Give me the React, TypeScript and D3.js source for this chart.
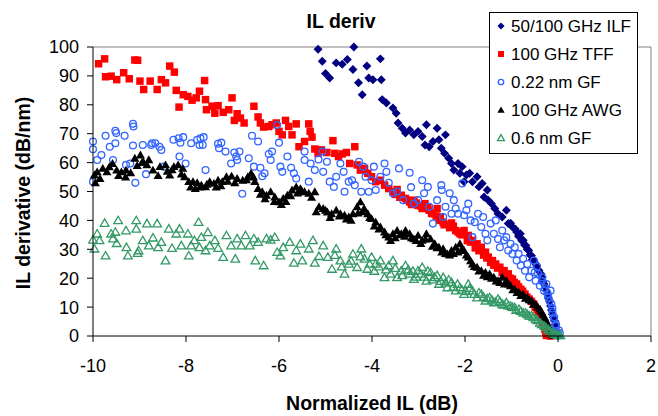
import React from "react";
import * as d3 from "d3";

// ---- data ----
const seriesNames = ["50/100 GHz ILF", "100 GHz TFF", "0.22 nm GF", "100 GHz AWG", "0.6 nm GF"];
const xTicks = [-10, -8, -6, -4, -2, 0, 2];
const yTicks = [0, 10, 20, 30, 40, 50, 60, 70, 80, 90, 100];

const ilf: [number, number][] = [
  [-5.16, 99.2], [-5.07, 95.1], [-5.0, 90.8], [-4.91, 89.3], [-4.77, 94.5], [-4.64, 94], [-4.53, 95.7],
  [-4.41, 92.2], [-4.39, 100], [-4.29, 87.6], [-4.21, 83.5], [-4.11, 93.4], [-4.07, 89.3], [-3.98, 88.7],
  [-3.82, 95.9], [-3.8, 88.7], [-3.78, 81.8], [-3.69, 80.6], [-3.55, 78.9], [-3.48, 77.1], [-3.44, 73.7],
  [-3.35, 71.9], [-3.28, 70.2], [-3.19, 71.3], [-3.1, 69.6], [-3.01, 70.8], [-2.92, 69], [-2.83, 73.1],
  [-2.86, 66.1], [-2.77, 65.5], [-2.69, 67.3], [-2.6, 71.9], [-2.56, 67.9], [-2.51, 65], [-2.44, 63.2],
  [-2.42, 69.6], [-2.35, 61.5], [-2.29, 59.7], [-2.24, 57.4], [-2.15, 59.7], [-2.11, 56.3], [-2.06, 58.6],
  [-2.02, 53.4], [-1.97, 55.7], [-1.9, 56.3], [-1.84, 53.4], [-1.74, 55.1], [-1.7, 51.6], [-1.63, 52.8],
  [-1.59, 48.1], [-1.52, 50.5], [-1.5, 47], [-1.43, 45.8], [-1.36, 44.1], [-1.29, 42.3], [-1.2, 41.2],
  [-1.11, 43.5], [-1.07, 38.9], [-0.98, 37.7], [-0.89, 36], [-0.81, 35.4], [-0.75, 33.1], [-0.69, 31.3],
  [-0.63, 29.6], [-0.57, 27.8], [-0.52, 26.1], [-0.46, 24.4], [-0.41, 22.6], [-0.34, 20.3], [-0.3, 18],
  [-0.25, 15.7], [-0.21, 13.3], [-0.16, 10.4], [-0.12, 7.5], [-0.07, 5.2], [-0.05, 2.9], [-0.02, 1.2],
  [0, 0.2], [-1.02, 39], [-0.92, 37], [-0.85, 34.5], [-0.78, 33], [-0.72, 31.5], [-0.66, 30], [-0.6, 28],
  [-0.55, 26.5], [-0.48, 25], [-0.43, 23], [-0.37, 21.5], [-0.32, 19], [-0.27, 17], [-0.23, 14.5],
  [-0.18, 12], [-0.14, 9], [-0.1, 6.5], [-0.06, 4], [-0.03, 2],
];

const tff: [number, number][] = [
  [-9.88, 94.2], [-9.75, 95.9], [-9.73, 89.7], [-9.61, 89.9], [-9.49, 88.7], [-9.34, 91.1], [-9.22, 89],
  [-9.1, 95.5], [-9.04, 95.4], [-8.99, 88.2], [-8.91, 85.3], [-8.77, 88.2], [-8.62, 85.3], [-8.53, 88.7],
  [-8.44, 87.6], [-8.35, 93.4], [-8.25, 91.3], [-8.21, 85], [-8.15, 79.2], [-8.06, 83.5], [-7.96, 82.9],
  [-7.87, 81.6], [-7.78, 82.4], [-7.71, 84.7], [-7.6, 88.4], [-7.58, 81.8], [-7.56, 78.3], [-7.44, 79.5],
  [-7.38, 77.1], [-7.31, 79.7], [-7.2, 77.4], [-7.08, 78.3], [-7.01, 82.4], [-6.96, 74.6], [-6.9, 76.9],
  [-6.83, 75.4], [-6.75, 73.7], [-6.54, 79.5], [-6.45, 75.8], [-6.4, 73.7], [-6.33, 72.3], [-6.22, 72.5],
  [-6.15, 73.1], [-6.06, 73.7], [-6.0, 70.8], [-5.93, 69.6], [-5.86, 74.6], [-5.79, 72.5], [-5.72, 69.6],
  [-5.63, 73.4], [-5.57, 65.5], [-5.45, 67.3], [-5.36, 73.4], [-5.33, 70.8], [-5.29, 68.8], [-5.23, 64.7],
  [-5.16, 63.2], [-5.09, 64.4], [-4.97, 63.5], [-4.84, 67.6], [-4.8, 63.2], [-4.72, 62.1], [-4.64, 63],
  [-4.55, 63.5], [-4.48, 59.7], [-4.37, 65.5], [-4.32, 59.2], [-4.25, 57.4], [-4.16, 58], [-4.09, 56.3],
  [-4.01, 55.1], [-3.92, 53.4], [-3.82, 53.9], [-3.73, 52.2], [-3.64, 51], [-3.55, 49.9], [-3.46, 50.7],
  [-3.37, 48.7], [-3.28, 47.6], [-3.19, 46.4], [-3.1, 47], [-3.01, 45.2], [-2.92, 44.1], [-2.86, 45.8],
  [-2.77, 43.5], [-2.69, 42.3], [-2.6, 44.1], [-2.53, 41.2], [-2.47, 39.4], [-2.38, 38.6], [-2.29, 39.1],
  [-2.2, 36.5], [-2.11, 35.4], [-2.02, 36.5], [-1.93, 34.8], [-1.84, 33.1], [-1.74, 31.9], [-1.65, 30.7],
  [-1.56, 29], [-1.5, 27.3], [-1.41, 26.1], [-1.34, 24.9], [-1.25, 23.8], [-1.16, 22.6], [-1.07, 21.5],
  [-0.98, 19.7], [-0.89, 18], [-0.8, 16.2], [-0.71, 14.5], [-0.62, 12.8], [-0.52, 11], [-0.45, 9.3],
  [-0.38, 7], [-0.33, 4.6], [-0.28, 2.3], [-0.25, 0.2], [-0.16, 0],
  [-1.95, 33], [-1.88, 32.5], [-1.78, 30.5], [-1.7, 29.5], [-1.6, 28], [-1.53, 27], [-1.45, 25.5],
  [-1.38, 24.5], [-1.3, 23.5], [-1.2, 22], [-1.12, 21], [-1.03, 20], [-0.94, 18.5], [-0.85, 17],
  [-0.76, 15.5], [-0.67, 13.5], [-0.57, 12], [-0.49, 10], [-0.42, 8.5], [-0.35, 6], [-0.3, 3.5],
  [-0.26, 1.2], [-0.2, 0.2], [-3.5, 49], [-3.4, 48], [-3.25, 47], [-3.15, 45.5], [-3.05, 46], [-2.95, 45],
  [-2.8, 44.5], [-2.72, 42.5], [-2.62, 41.5], [-2.55, 40], [-2.45, 38.5], [-2.33, 37.5], [-2.25, 38],
  [-2.15, 36], [-2.07, 35],
];

const gf022: [number, number][] = [
  [-10, 67.3], [-10, 64.6], [-10, 53.4], [-9.91, 60.9], [-9.82, 62.6], [-9.73, 69.3], [-9.64, 65.5],
  [-9.57, 60.9], [-9.52, 66.7], [-9.52, 71], [-9.5, 70.2], [-9.32, 69.3], [-9.29, 59.2], [-9.2, 59.7],
  [-9.14, 73.4], [-9.13, 72.5], [-9.14, 65.9], [-9.09, 53], [-8.93, 66.1], [-8.86, 56], [-8.75, 66.1],
  [-8.73, 66.7], [-8.66, 66.7], [-8.57, 65.5], [-8.53, 64.4], [-8.48, 58.6], [-8.27, 67.9], [-8.16, 68.4],
  [-8.12, 66.9], [-8.14, 62.1], [-8.06, 68.8], [-8.01, 59.7], [-7.89, 66.7], [-7.76, 67.9], [-7.71, 66.1],
  [-7.69, 68.4], [-7.62, 68.8], [-7.58, 57.4], [-7.64, 66.1], [-7.31, 66.5], [-7.29, 65], [-7.24, 66.9],
  [-7.15, 63.8], [-7.03, 59.7], [-6.96, 63.5], [-6.92, 62.1], [-6.9, 60.9], [-6.85, 63.8], [-6.79, 49.2],
  [-6.65, 61.5], [-6.58, 69.3], [-6.54, 58.6], [-6.45, 67.3], [-6.4, 58.2], [-6.36, 55.3], [-6.31, 56.3],
  [-6.22, 63], [-6.18, 60.9], [-6.15, 63.8], [-6.04, 73], [-5.97, 58.6], [-6.0, 66.9], [-5.93, 56.8],
  [-5.82, 62.1], [-5.74, 58.2], [-5.68, 56.3], [-5.63, 54.5], [-5.45, 60.9], [-5.45, 63.8], [-5.36, 53.4],
  [-5.32, 59.7], [-5.23, 57.4], [-5.15, 61.1], [-5.06, 63.8], [-5.05, 56.8], [-4.97, 60.3], [-4.91, 53.4],
  [-4.82, 51.6], [-4.77, 55.1], [-4.68, 59.7], [-4.61, 56.8], [-4.59, 49.9], [-4.5, 53.4], [-4.43, 53.9],
  [-4.37, 52.2], [-4.28, 60.3], [-4.23, 49.9], [-4.19, 58.6], [-4.14, 55.1], [-4.07, 49.9], [-4.01, 53.9],
  [-3.96, 58.6], [-3.92, 50.5], [-3.82, 55.1], [-3.73, 59.7], [-3.69, 56.8], [-3.64, 53], [-3.55, 49.4],
  [-3.46, 50], [-3.42, 58], [-3.33, 47], [-3.19, 56.5], [-3.16, 51.5], [-3.1, 45.8], [-3.01, 47],
  [-2.92, 53.9], [-2.88, 49.4], [-2.8, 51.6], [-2.77, 44.7], [-2.69, 38.9], [-2.6, 47], [-2.51, 52.2],
  [-2.5, 50.5], [-2.47, 41.2], [-2.42, 44.7], [-2.33, 49.4], [-2.29, 42.3], [-2.24, 47], [-2.2, 44.1],
  [-2.15, 42.3], [-2.06, 52.8], [-2.02, 41.8], [-1.97, 43.5], [-1.93, 45.8], [-1.88, 40], [-1.84, 34.2],
  [-1.79, 39.4], [-1.72, 42.3], [-1.65, 37.7], [-1.61, 41.2], [-1.56, 35.4], [-1.52, 33.1], [-1.45, 38.9],
  [-1.38, 35.4], [-1.34, 40], [-1.29, 33.6], [-1.25, 30.7], [-1.2, 36.5], [-1.16, 33.1], [-1.11, 34.2],
  [-1.07, 29.6], [-1.02, 31.9], [-0.98, 28.4], [-0.93, 30.7], [-0.89, 26.1], [-0.85, 28.4], [-0.8, 24.4],
  [-0.75, 26.7], [-0.71, 22.6], [-0.66, 24.9], [-0.62, 20.3], [-0.57, 22.6], [-0.52, 26.1], [-0.48, 19.1],
  [-0.43, 21.5], [-0.39, 17.4], [-0.34, 20.3], [-0.3, 15.7], [-0.25, 18], [-0.21, 13.3], [-0.16, 15.7],
  [-0.14, 11], [-0.12, 8.1], [-0.09, 5.8], [-0.05, 3.5], [-0.02, 1.2], [0, 0.2],
  [-0.5, 22], [-0.45, 24], [-0.35, 19], [-0.28, 16.5], [-0.22, 14.5], [-0.18, 12], [-0.12, 9.5],
  [-0.08, 6.5], [-0.04, 4], [0.02, 2], [0.04, 1],
];

const awg: [number, number][] = [
  [-9.97, 55.7], [-9.91, 56.8], [-9.79, 58], [-9.7, 56.8], [-9.58, 59.7], [-9.49, 57.4], [-9.39, 56.8],
  [-9.29, 57.4], [-9.19, 56.5], [-9.1, 61.5], [-8.98, 62.6], [-8.92, 60.3], [-8.84, 59.2], [-8.71, 57.4],
  [-8.56, 58.6], [-8.44, 59.2], [-8.35, 55.7], [-8.26, 58.6], [-8.17, 59.2], [-8.07, 58], [-8.03, 55.1],
  [-7.94, 53.4], [-7.85, 53.4], [-7.76, 53], [-7.67, 52.2], [-7.58, 51.6], [-7.49, 53.4], [-7.4, 52.8],
  [-7.31, 53.9], [-7.22, 53.4], [-7.13, 55.1], [-7.02, 55.3], [-6.9, 54.5], [-6.78, 53.9], [-6.67, 55.1],
  [-6.6, 56.3], [-6.52, 53.4], [-6.45, 51], [-6.36, 49.9], [-6.27, 48.7], [-6.18, 49.9], [-6.09, 48.1],
  [-6.0, 46.4], [-5.91, 47.6], [-5.82, 48.7], [-5.72, 50.5], [-5.63, 51.6], [-5.54, 51], [-5.45, 49.9],
  [-5.36, 49.4], [-5.23, 49.9], [-5.14, 44.7], [-5.05, 44.1], [-4.96, 42.9], [-4.87, 42.3], [-4.77, 43.5],
  [-4.68, 42.3], [-4.59, 41.8], [-4.5, 41.2], [-4.41, 42.3], [-4.32, 44.7], [-4.25, 46.4], [-4.17, 44.1],
  [-4.09, 42.3], [-4.01, 40.6], [-3.92, 39.4], [-3.82, 37.7], [-3.73, 36], [-3.64, 34.2], [-3.55, 35.4],
  [-3.46, 36.5], [-3.37, 35.4], [-3.28, 36.5], [-3.19, 35.4], [-3.1, 33.6], [-3.01, 34.8], [-2.92, 33.1],
  [-2.83, 35.4], [-2.74, 33.6], [-2.65, 31.9], [-2.56, 30.7], [-2.47, 30.2], [-2.38, 28.4], [-2.29, 29.6],
  [-2.2, 30.7], [-2.11, 31.9], [-2.02, 29.6], [-1.93, 27.3], [-1.84, 24.9], [-1.74, 23.8], [-1.65, 22.6],
  [-1.56, 22], [-1.47, 21.5], [-1.38, 20.3], [-1.29, 19.1], [-1.2, 20.3], [-1.11, 19.1], [-1.02, 17.4],
  [-0.93, 16.2], [-0.84, 15.1], [-0.75, 14.5], [-0.66, 13.3], [-0.57, 12.2], [-0.48, 11], [-0.39, 9.3],
  [-0.33, 7.5], [-0.25, 5.2], [-0.19, 2.9], [-0.14, 1.2], [-0.09, 0.2], [-0.03, 0.2],
  [-9.95, 53], [-9.85, 54.5], [-9.65, 58.5], [-9.45, 55.5], [-9.3, 55], [-9.05, 59], [-8.95, 60], [-8.8, 61],
  [-8.6, 55.5], [-8.4, 57], [-8.3, 57.5], [-8.1, 56], [-7.9, 51.5], [-7.8, 51], [-7.7, 51.5], [-7.55, 52.5],
  [-7.35, 51.5], [-7.25, 52], [-7.1, 53.5], [-6.95, 53], [-6.7, 54], [-6.55, 55], [-6.4, 49], [-6.3, 47.5],
  [-6.1, 46.5], [-5.95, 45.5], [-5.85, 46.5], [-5.75, 48.5], [-5.6, 49.5], [-5.5, 50], [-5.3, 48], [-5.2, 43],
  [-5.0, 43.5], [-4.9, 41], [-4.7, 41.5], [-4.55, 40.5], [-4.45, 40], [-4.3, 42.5], [-4.2, 43], [-4.05, 41],
  [-3.95, 38], [-3.85, 37], [-3.7, 35], [-3.6, 33], [-3.5, 34], [-3.4, 35], [-3.3, 34.5], [-3.25, 35.5],
  [-3.15, 34], [-3.05, 33], [-2.95, 32], [-2.85, 33.5], [-2.7, 31], [-2.6, 30.5], [-2.5, 29], [-2.42, 28.5],
  [-2.33, 28], [-2.25, 28.5], [-2.15, 29], [-2.07, 30], [-1.97, 28], [-1.88, 26], [-1.8, 24], [-1.7, 22.5],
  [-1.6, 21], [-1.52, 20.5], [-1.43, 20], [-1.33, 19], [-1.25, 18.5], [-1.15, 18], [-1.06, 18], [-0.97, 16],
  [-0.88, 15], [-0.8, 14], [-0.7, 13], [-0.62, 12.5], [-0.53, 11], [-0.44, 10], [-0.36, 8.5], [-0.29, 6.5],
  [-0.22, 4], [-0.17, 2], [-0.11, 0.5],
];

const gf06: [number, number][] = [
  [-10, 33.3], [-9.97, 30.2], [-9.91, 35.4], [-9.86, 33.1], [-9.75, 39.1], [-9.73, 27.8], [-9.61, 35.4],
  [-9.57, 33.7], [-9.52, 36], [-9.49, 32.1], [-9.46, 40], [-9.29, 36.5], [-9.28, 30.7], [-9.25, 27.8],
  [-9.07, 40], [-9.07, 37.1], [-9.04, 28.7], [-9.02, 29.6], [-8.93, 33.1], [-8.84, 38.9], [-8.8, 31.3],
  [-8.71, 34], [-8.62, 38.9], [-8.6, 30.7], [-8.53, 32.5], [-8.44, 26.1], [-8.37, 37.1], [-8.3, 30.4],
  [-8.21, 35.4], [-8.14, 37.1], [-8.1, 31.3], [-7.96, 35.4], [-7.94, 27.8], [-7.89, 31.3], [-7.82, 33.1],
  [-7.73, 39.4], [-7.71, 30.7], [-7.67, 34.2], [-7.58, 29.6], [-7.53, 35.9], [-7.49, 31.3], [-7.38, 33.1],
  [-7.31, 30.4], [-7.2, 27.3], [-7.13, 34.8], [-7.03, 31.3], [-6.94, 26.7], [-6.9, 33.7], [-6.81, 31.3],
  [-6.72, 34.8], [-6.63, 31.3], [-6.54, 33.7], [-6.51, 26.1], [-6.45, 32.5], [-6.33, 24.4], [-6.27, 33.7],
  [-6.18, 33.3], [-6.09, 34.2], [-6.04, 29], [-5.97, 27.8], [-5.91, 30.7], [-5.77, 32.5], [-5.68, 25.3],
  [-5.63, 29.6], [-5.54, 31.9], [-5.5, 26.1], [-5.36, 30.2], [-5.27, 33.1], [-5.23, 25.3], [-5.14, 27.6],
  [-5.05, 31.3], [-4.95, 27.3], [-4.86, 23.2], [-4.77, 30.2], [-4.68, 26.1], [-4.59, 21.5], [-4.5, 25],
  [-4.41, 28.4], [-4.32, 23.8], [-4.23, 30.2], [-4.16, 26.7], [-4.1, 23.2], [-4.01, 27.3], [-3.92, 25],
  [-3.82, 26.1], [-3.73, 20.3], [-3.64, 24.4], [-3.55, 26.1], [-3.46, 20.3], [-3.37, 22.6], [-3.28, 24.4],
  [-3.19, 21.5], [-3.1, 19.7], [-3.01, 22.6], [-2.92, 23.8], [-2.83, 19.1], [-2.74, 22], [-2.65, 20.3],
  [-2.56, 18], [-2.47, 20.3], [-2.38, 16.8], [-2.29, 18.6], [-2.2, 15.7], [-2.11, 16.8], [-2.02, 14.5],
  [-1.93, 18], [-1.84, 15.7], [-1.74, 13.3], [-1.65, 14.5], [-1.56, 12.2], [-1.47, 13.3], [-1.38, 11.6],
  [-1.29, 12.8], [-1.2, 11], [-1.11, 11.6], [-1.02, 10.4], [-0.93, 9.9], [-0.84, 9.3], [-0.75, 8.1],
  [-0.66, 7.5], [-0.57, 7], [-0.48, 5.8], [-0.39, 4.6], [-0.3, 3.5], [-0.21, 2.3], [-0.12, 1.2],
  [-0.05, 0.6], [0.02, 0.2],
  [-2.95, 21.5], [-2.88, 20.5], [-2.8, 22.5], [-2.7, 19.5], [-2.6, 21], [-2.52, 19], [-2.42, 18.5],
  [-2.35, 19.5], [-2.25, 17], [-2.16, 18], [-2.07, 16], [-1.98, 15.5], [-1.9, 16.5], [-1.8, 14.5],
  [-1.7, 15], [-1.6, 13.5], [-1.52, 13], [-1.42, 12.5], [-1.34, 11.8], [-1.25, 12], [-1.16, 10.8],
  [-1.07, 10.5], [-0.98, 10], [-0.9, 9], [-0.8, 8.6], [-0.7, 8], [-0.62, 7], [-0.53, 6.5], [-0.44, 5.4],
  [-0.35, 4], [-0.26, 3], [-0.17, 1.8], [-0.08, 0.8], [0.0, 0.3], [0.05, 0.2],
  [-4.8, 28], [-4.65, 24], [-4.45, 26], [-4.25, 27.5], [-4.05, 25], [-3.95, 22.5], [-3.85, 24],
  [-3.7, 23], [-3.6, 21.5], [-3.5, 23.5], [-3.35, 21], [-3.22, 23], [-3.12, 22.5], [-3.05, 20.5],
];

const seriesData = [ilf, tff, gf022, awg, gf06];

type Style = { kind: "diamond" | "square" | "circle" | "tri" | "triOpen"; color: string };
const styles: Style[] = [
  { kind: "diamond", color: "#000080" },
  { kind: "square", color: "#FF0000" },
  { kind: "circle", color: "#3366FF" },
  { kind: "tri", color: "#000000" },
  { kind: "triOpen", color: "#339966" },
];

const W = 658, H = 416;
const x = d3.scaleLinear().domain([-10, 2]).range([93, 651]);
const y = d3.scaleLinear().domain([0, 100]).range([336, 47]);
const FONT = "'Liberation Sans', Arial, sans-serif";

const diamondPath = d3.symbol().type(d3.symbolSquare).size(40)() as string;
const squarePath = d3.symbol().type(d3.symbolSquare).size(56)() as string;
const triPath = d3.symbol().type(d3.symbolTriangle).size(36)() as string;
const triOpenPath = d3.symbol().type(d3.symbolTriangle).size(32)() as string;

function Marker({ s, cx, cy, scale = 1 }: { s: Style; cx: number; cy: number; scale?: number }) {
  const t = `translate(${cx},${cy}) scale(${scale})`;
  switch (s.kind) {
    case "diamond":
      return <path d={diamondPath} transform={`${t} rotate(45)`} fill={s.color} />;
    case "square":
      return <path d={squarePath} transform={t} fill={s.color} />;
    case "circle":
      return <circle cx={cx} cy={cy} r={3.4 * scale} fill="none" stroke={s.color} strokeWidth={1.3} />;
    case "tri":
      return <path d={triPath} transform={`${t} translate(0,0.8)`} fill={s.color} />;
    default:
      return (
        <path d={triOpenPath} transform={`${t} translate(0,0.8)`} fill="none" stroke={s.color} strokeWidth={1.3 / scale} />
      );
  }
}

export default function App() {
  const legendY = [26, 54, 82, 110, 138];
  return (
    <svg width={W} height={H} style={{ position: "absolute", left: 0, top: 0, background: "#fff" }} fontFamily={FONT}>
      <rect x={0} y={0} width={W} height={H} fill="#fff" />
      {/* plot border (top & right, gray) */}
      <line x1={x(-10)} x2={x(2)} y1={y(100)} y2={y(100)} stroke="#808080" strokeWidth={1} />
      <line x1={x(2)} x2={x(2)} y1={y(100)} y2={y(0)} stroke="#808080" strokeWidth={1} />

      {/* data */}
      {seriesData.map((pts, si) => (
        <g key={si}>
          {pts.map((p, i) => (
            <Marker key={i} s={styles[si]} cx={x(p[0])} cy={y(p[1])} />
          ))}
        </g>
      ))}

      {/* axes */}
      <line x1={x(-10)} x2={x(-10)} y1={y(0)} y2={y(100)} stroke="#000" strokeWidth={1} />
      <line x1={x(-10)} x2={x(2)} y1={y(0)} y2={y(0)} stroke="#000" strokeWidth={1} />
      {yTicks.map((t) => (
        <g key={t}>
          <line x1={x(-10) - 6} x2={x(-10)} y1={y(t)} y2={y(t)} stroke="#000" />
          <text x={79} y={y(t)} dy="0.36em" textAnchor="end" fontSize={18} fill="#000">
            {t}
          </text>
        </g>
      ))}
      {xTicks.map((t) => (
        <g key={t}>
          <line x1={x(t)} x2={x(t)} y1={y(0)} y2={y(0) + 6} stroke="#000" />
          <text x={x(t)} y={372} textAnchor="middle" fontSize={18} fill="#000">
            {t}
          </text>
        </g>
      ))}

      {/* titles */}
      <text x={341} y={28} textAnchor="middle" fontSize={19.5} fontWeight="bold">
        IL deriv
      </text>
      <text x={372} y={410} textAnchor="middle" fontSize={19.5} fontWeight="bold">
        Normalized IL (dB)
      </text>
      <text transform={`translate(30,193) rotate(-90)`} textAnchor="middle" fontSize={19.5} fontWeight="bold">
        IL derivative (dB/nm)
      </text>

      {/* legend */}
      <rect x={489.5} y={12.5} width={148} height={141} fill="#fff" stroke="#000" strokeWidth={1} />
      {seriesNames.map((n, i) => (
        <g key={n}>
          <Marker s={styles[i]} cx={501} cy={legendY[i]} scale={0.8} />
          <text x={511} y={legendY[i]} dy="0.36em" fontSize={17} fill="#000">
            {n}
          </text>
        </g>
      ))}
    </svg>
  );
}
